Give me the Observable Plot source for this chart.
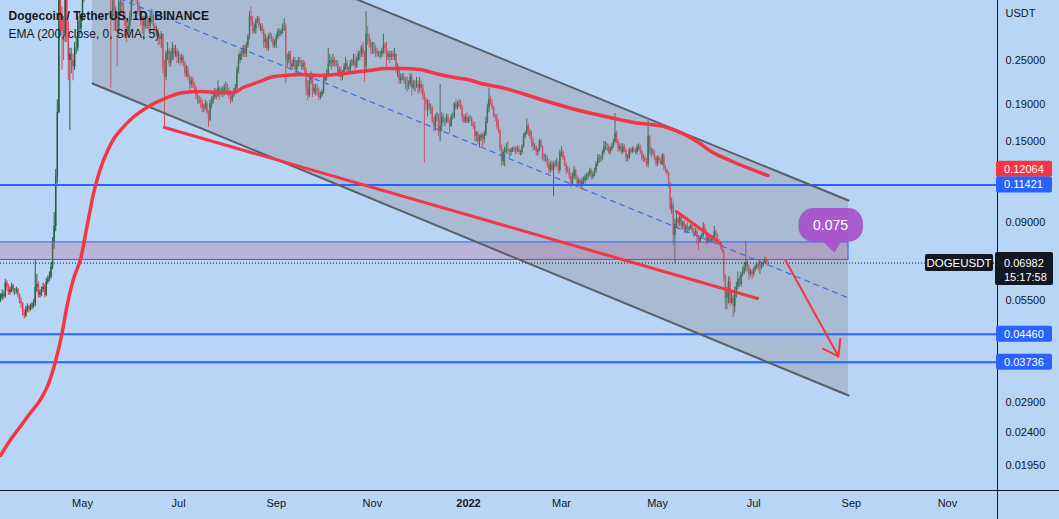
<!DOCTYPE html>
<html><head><meta charset="utf-8">
<script src="https://cdn.jsdelivr.net/npm/d3@7"></script>
<script src="https://cdn.jsdelivr.net/npm/@observablehq/plot@0.6"></script>
<style>
html,body{margin:0;padding:0;background:#b9d5f5;overflow:hidden;}
#chart svg{display:block;}
</style></head><body><div id="chart"></div>
<script>
// ---------- data ----------
const startDate = "2021-03-10";
const firstOpen = 0.0555;
const closes = [
 .0560,.0575,.0565,.0615,.0600,.0580,.0590,.0605,.0585,.0585,.0590,.0570,.0550,.0540,.0510,.0500,.0520,.0530,.0520,.0530,.0535,.0540,
 .0600,.0610,.0570,.0580,.0590,.0600,.0570,.0620,.0630,.0640,.0680,.0800,.0880,.1200,.1800,.3700,.3300,.3000,.2900,.3700,.3000,.2500,.2600,.2500,.2400,.2700,.2700,.3200,.3050,.3250,
 .3900,.3800,.4300,.5300,.5700,.6600,.6900,.7200,.5700,.4700,.5000,.4200,.4800,.5500,.5000,.5100,.4700,.4700,.3700,.3800,.3300,.3300,.3000,.3600,.3600,.3500,.3300,.3100,.3000,.3100,.3300,
 .3650,.4200,.4000,.3700,.3500,.3400,.3200,.3100,.3200,.3200,.3200,.3100,.3300,.3300,.3100,.3000,.3000,.2900,.2850,.2950,.2400,.2250,.2600,.2650,.2450,.2550,.2700,.2600,.2650,.2550,
 .2550,.2500,.2550,.2450,.2300,.2350,.2250,.2150,.2200,.2150,.2100,.2000,.1950,.1950,.1900,.1850,.1850,.1900,.1800,.1720,.1900,.1950,.1980,.2050,.2000,.2100,.2050,.2050,.2050,.2100,.2100,
 .2050,.2000,.1950,.2000,.2050,.2100,.2350,.2500,.2600,.2600,.2700,.2600,.2750,.2900,.3300,.3200,.3000,.3050,.3200,.3250,.3100,.3100,.3000,.2800,.2850,.2700,.2900,.2900,.2850,.2750,.2800,
 .2900,.3000,.2950,.3000,.3100,.3100,.2500,.2500,.2600,.2400,.2450,.2500,.2350,.2450,.2500,.2450,.2400,.2450,.2350,.2100,.2000,.2200,.2250,.2050,.2100,.2100,.2050,.1980,.2000,.2050,
 .2200,.2250,.2300,.2450,.2500,.2450,.2500,.2450,.2450,.2300,.2350,.2250,.2300,.2400,.2450,.2350,.2350,.2450,.2450,.2500,.2400,.2500,.2600,.2600,.2700,.2600,.2400,.2950,.2900,.2800,.2700,
 .2700,.2700,.2650,.2600,.2600,.2600,.2650,.2750,.2700,.2550,.2600,.2550,.2600,.2550,.2600,.2350,.2350,.2200,.2250,.2250,.2200,.2150,.2150,.2150,.2250,.2100,.2150,.2150,.2150,.2100,
 .2150,.2100,.2000,.1950,.1900,.1900,.1850,.1850,.1700,.1650,.1750,.1750,.1600,.1650,.1750,.1700,.1700,.1750,.1700,.1650,.1750,.1750,.1900,.1850,.1900,.1900,.1850,.1750,.1700,.1750,.1700,
 .1730,.1730,.1680,.1650,.1550,.1580,.1500,.1530,.1560,.1520,.1570,.1700,.1850,.1960,.1900,.1850,.1760,.1750,.1650,.1600,.1440,.1320,.1400,.1430,.1430,.1410,.1400,.1420,.1430,.1420,.1420,
 .1430,.1400,.1400,.1450,.1550,.1580,.1650,.1600,.1550,.1500,.1450,.1450,.1400,.1420,.1500,.1450,.1350,.1350,.1350,.1300,.1250,.1300,.1250,.1300,.1300,.1300,.1250,.1400,
 .1400,.1350,.1300,.1250,.1250,.1200,.1150,.1200,.1250,.1200,.1150,.1170,.1130,.1170,.1170,.1200,.1200,.1220,.1250,.1200,.1220,.1250,.1300,.1350,.1350,.1350,.1400,.1450,.1450,.1450,.1400,
 .1430,.1450,.1500,.1580,.1500,.1430,.1450,.1400,.1450,.1420,.1350,.1350,.1420,.1400,.1430,.1420,.1400,.1450,.1450,.1400,.1350,.1350,.1330,.1300,.1550,.1400,.1400,.1400,.1350,.1300,
 .1350,.1330,.1300,.1370,.1270,.1250,.1230,.1150,.0980,.1000,.0830,.0890,.0920,.0900,.0930,.0880,.0900,.0860,.0880,.0860,.0870,.0880,.0850,.0840,.0850,.0820,.0800,.0820,.0830,.0870,.0850,
 .0800,.0820,.0800,.0810,.0810,.0850,.0830,.0800,.0790,.0770,.0750,.0640,.0560,.0580,.0620,.0540,.0560,.0530,.0580,.0600,.0630,.0610,.0650,.0660,.0680,.0700,.0680,.0650,.0660,.0650,
 .0670,.0680,.0690,.0680,.0680,.0690,.0700,.0715,.0700,.06982
];
const highs = [
 .0575,.0590,.0585,.0630,.0625,.0610,.0600,.0615,.0610,.0595,.0600,.0595,.0575,.0560,.0545,.0520,.0530,.0540,.0535,.0540,.0545,.0555,
 .0710,.0650,.0620,.0590,.0600,.0615,.0610,.0635,.0645,.0660,.0700,.0820,.0960,.1260,.1950,.4500,.4000,.3500,.3300,.4200,.3800,.3200,.2700,.2700,.2600,.2800,.2900,.3300,.3400,.3350,
 .4100,.4100,.4400,.5500,.5900,.6800,.7100,.7400,.7200,.6000,.5200,.5200,.5000,.5800,.5600,.5500,.5100,.5100,.4800,.4300,.4000,.3500,.3400,.3700,.3800,.3700,.3600,.3400,.3200,.3200,.3400,
 .3800,.4400,.4300,.4050,.3800,.3600,.3500,.3300,.3300,.3400,.3300,.3250,.3400,.3450,.3350,.3150,.3100,.3050,.2950,.3000,.2950,.2500,.2650,.2800,.2700,.2650,.2800,.2750,.2750,.2700,
 .2650,.2600,.2600,.2580,.2480,.2420,.2400,.2280,.2250,.2250,.2180,.2130,.2050,.2000,.1980,.1950,.1900,.1950,.1930,.1820,.1950,.1990,.2020,.2100,.2080,.2200,.2120,.2100,.2120,.2150,.2180,
 .2150,.2100,.2050,.2050,.2100,.2150,.2400,.2600,.2650,.2700,.2750,.2750,.2800,.2950,.3400,.3500,.3300,.3150,.3250,.3300,.3300,.3150,.3150,.3050,.2950,.2900,.2950,.2980,.2950,.2900,.2850,
 .2950,.3050,.3050,.3050,.3150,.3250,.3150,.2600,.2650,.2650,.2500,.2550,.2550,.2500,.2550,.2550,.2500,.2500,.2480,.2380,.2200,.2250,.2330,.2280,.2150,.2150,.2150,.2100,.2050,.2080,
 .2250,.2300,.2350,.2700,.2600,.2550,.2600,.2550,.2500,.2500,.2400,.2400,.2350,.2450,.2550,.2500,.2400,.2500,.2520,.2600,.2600,.2550,.2650,.2650,.2750,.2800,.2650,.3400,.3100,.2950,.2850,
 .2800,.2800,.2750,.2700,.2650,.2650,.2700,.2950,.2800,.2800,.2650,.2650,.2650,.2650,.2700,.2600,.2450,.2400,.2300,.2300,.2300,.2250,.2250,.2200,.2300,.2300,.2200,.2200,.2250,.2200,
 .2250,.2200,.2150,.2050,.1980,.1950,.1950,.1900,.1880,.1750,.1780,.1800,.1780,.2150,.1800,.1780,.1730,.1780,.1780,.1720,.1780,.1800,.1920,.1950,.1930,.1950,.1950,.1880,.1780,.1780,.1800,
 .1750,.1770,.1750,.1700,.1700,.1600,.1600,.1560,.1580,.1580,.1600,.1750,.1900,.2100,.2000,.1950,.1870,.1780,.1780,.1720,.1620,.1470,.1420,.1450,.1480,.1500,.1430,.1440,.1450,.1450,.1450,
 .1460,.1460,.1420,.1470,.1580,.1600,.1730,.1680,.1620,.1600,.1530,.1480,.1460,.1440,.1520,.1520,.1460,.1390,.1380,.1370,.1340,.1320,.1330,.1320,.1330,.1350,.1320,.1420,
 .1450,.1420,.1370,.1310,.1280,.1270,.1230,.1230,.1280,.1260,.1210,.1190,.1180,.1190,.1200,.1220,.1230,.1240,.1270,.1260,.1240,.1270,.1320,.1380,.1380,.1370,.1420,.1500,.1500,.1480,.1470,
 .1450,.1480,.1520,.1790,.1600,.1520,.1480,.1480,.1480,.1470,.1430,.1380,.1440,.1440,.1450,.1450,.1430,.1470,.1480,.1470,.1420,.1380,.1370,.1350,.1710,.1560,.1440,.1430,.1420,.1370,
 .1370,.1370,.1350,.1390,.1390,.1290,.1260,.1240,.1160,.1050,.1020,.0920,.0960,.0930,.0940,.0940,.0910,.0910,.0890,.0900,.0880,.0890,.0900,.0870,.0870,.0860,.0830,.0830,.0840,.0900,.0890,
 .0860,.0830,.0830,.0820,.0830,.0880,.0860,.0840,.0810,.0800,.0780,.0760,.0650,.0600,.0640,.0640,.0580,.0570,.0600,.0620,.0660,.0640,.0660,.0680,.0700,.0800,.0710,.0690,.0670,.0670,
 .0680,.0690,.0700,.0700,.0710,.0700,.0710,.0725,.0720,.0710
];
const lows = [
 .0545,.0550,.0555,.0560,.0585,.0570,.0570,.0580,.0575,.0570,.0575,.0560,.0540,.0525,.0500,.0490,.0495,.0510,.0510,.0515,.0520,.0525,
 .0530,.0580,.0560,.0560,.0565,.0580,.0560,.0565,.0610,.0620,.0630,.0670,.0760,.0850,.1150,.1790,.3000,.2350,.2500,.2800,.2800,.2200,.1610,.2300,.2200,.2350,.2600,.2650,.2900,.2950,
 .3200,.3600,.3700,.4200,.5100,.5600,.6300,.6600,.5400,.4200,.4500,.4000,.3800,.4700,.4800,.4600,.4300,.4500,.2100,.3200,.3000,.3000,.2400,.2900,.3300,.3300,.3200,.2900,.2800,.2900,.2950,
 .3200,.3600,.3850,.3550,.3350,.3300,.3100,.2950,.2850,.3050,.3050,.3000,.3000,.3150,.2950,.2900,.2900,.2750,.2750,.2700,.2300,.1640,.2200,.2500,.2400,.2400,.2500,.2500,.2550,.2450,
 .2450,.2420,.2450,.2400,.2250,.2250,.2200,.2080,.2100,.2100,.2050,.1950,.1900,.1900,.1850,.1800,.1800,.1830,.1780,.1640,.1700,.1850,.1900,.1950,.1950,.1980,.1950,.2000,.1980,.2000,.2050,
 .2000,.1950,.1900,.1920,.1980,.2020,.2080,.2300,.2450,.2500,.2550,.2550,.2550,.2700,.2850,.3100,.2950,.2950,.2950,.3150,.3050,.3000,.2950,.2700,.2700,.2650,.2650,.2850,.2800,.2700,.2700,
 .2700,.2850,.2900,.2900,.2950,.3000,.2160,.2400,.2450,.2350,.2350,.2400,.2250,.2300,.2400,.2400,.2350,.2350,.2300,.2000,.1940,.1980,.2150,.1980,.2020,.2000,.2000,.1940,.1950,.1980,
 .2020,.2180,.2200,.2280,.2400,.2350,.2400,.2400,.2400,.2250,.2250,.2200,.2200,.2280,.2350,.2320,.2280,.2330,.2400,.2420,.2350,.2380,.2480,.2500,.2550,.2550,.2180,.2350,.2750,.2700,.2600,
 .2600,.2600,.2550,.2550,.2550,.2520,.2550,.2600,.2600,.2400,.2500,.2450,.2500,.2500,.2500,.2300,.2250,.2150,.2150,.2200,.2150,.2080,.2050,.2080,.2120,.2000,.2080,.2050,.2100,.2020,
 .2050,.2020,.1950,.1310,.1820,.1750,.1820,.1780,.1680,.1600,.1600,.1700,.1550,.1500,.1600,.1680,.1650,.1680,.1680,.1580,.1640,.1720,.1730,.1830,.1830,.1860,.1830,.1700,.1680,.1680,.1680,
 .1680,.1700,.1650,.1620,.1500,.1500,.1470,.1440,.1500,.1450,.1480,.1550,.1680,.1800,.1880,.1830,.1740,.1700,.1620,.1580,.1410,.1280,.1290,.1280,.1390,.1380,.1350,.1370,.1400,.1400,.1380,
 .1400,.1380,.1370,.1380,.1440,.1530,.1560,.1550,.1520,.1450,.1410,.1420,.1370,.1370,.1410,.1440,.1330,.1320,.1320,.1270,.1220,.1230,.1240,.1060,.1270,.1280,.1220,.1230,
 .1360,.1330,.1280,.1220,.1230,.1180,.1120,.1130,.1180,.1180,.1120,.1140,.1110,.1110,.1140,.1150,.1170,.1180,.1200,.1180,.1180,.1200,.1230,.1280,.1310,.1320,.1330,.1380,.1420,.1410,.1380,
 .1380,.1410,.1440,.1480,.1480,.1400,.1410,.1380,.1390,.1400,.1320,.1320,.1340,.1380,.1390,.1400,.1380,.1380,.1420,.1380,.1330,.1320,.1310,.1280,.1270,.1380,.1360,.1380,.1330,.1280,
 .1280,.1310,.1290,.1290,.1250,.1230,.1210,.1120,.0970,.0950,.0780,.0695,.0870,.0860,.0880,.0860,.0860,.0840,.0840,.0840,.0850,.0860,.0840,.0820,.0830,.0780,.0755,.0790,.0810,.0820,.0840,
 .0780,.0790,.0790,.0790,.0800,.0800,.0800,.0790,.0780,.0760,.0740,.0620,.0520,.0520,.0540,.0530,.0540,.0496,.0510,.0560,.0590,.0600,.0600,.0640,.0650,.0660,.0660,.0626,.0640,.0630,
 .0640,.0660,.0670,.0665,.0650,.0670,.0680,.0695,.0690,.0690
];

// EMA(200) curve, read at sample dates
const emaDates = ["2021-03-10","2021-03-16","2021-03-23","2021-03-29","2021-04-04","2021-04-09","2021-04-14","2021-04-18","2021-04-21","2021-04-25","2021-04-30","2021-05-04","2021-05-08","2021-05-12","2021-05-17","2021-05-21","2021-05-25","2021-06-02","2021-06-11","2021-06-24","2021-07-04","2021-07-15","2021-07-26","2021-08-05","2021-08-11","2021-08-20","2021-08-28","2021-09-06","2021-09-17","2021-09-28","2021-10-08","2021-10-19","2021-10-30","2021-11-09","2021-11-20","2021-12-01","2021-12-11","2021-12-22","2022-01-01","2022-01-09","2022-01-22","2022-02-12","2022-03-05","2022-03-26","2022-04-16","2022-05-07","2022-05-28","2022-06-03","2022-06-16","2022-07-10"];
const emaValues = [.0208,.02285,.0251,.0272,.0294,.0323,.0378,.0448,.0528,.0626,.0723,.0885,.1081,.1250,.1418,.1530,.1609,.1746,.1860,.1981,.2044,.2057,.2044,.2044,.2109,.2177,.2246,.2275,.2289,.2275,.2289,.2318,.2347,.2377,.2377,.2362,.2304,.2250,.2215,.2163,.2109,.1981,.1860,.1768,.1692,.1640,.1482,.1418,.1332,.1212];

// drawings
const channelDates = ["2021-05-07T08:00Z","2022-08-30T05:00Z"];
const channelUpper = [0.726, 0.1035];
const channelLower = [0.2163, 0.03032];
const channelMid = [0.3959, 0.05603];
const zoneDates = ["2021-03-01T00:00Z","2022-08-30T05:00Z"];
const zonePrices = [0.0712, 0.0795];
const levelPrices = [0.11421, 0.0446, 0.03736];
const lastPrice = 0.06982;
const emaLast = 0.12064;
const trendADates = ["2021-06-22T00:00Z","2022-07-03T10:00Z"];
const trendAPrices = [0.1640, 0.05585];
const trendBDates = ["2022-05-13T00:00Z","2022-06-10T00:00Z"];
const trendBPrices = [0.0966, 0.0790];
const arrowDates = ["2022-07-21T05:00Z","2022-08-23T19:00Z"];
const arrowPrices = [0.0710, 0.0388];
const bubbleDates = ["2022-07-29T19:00Z","2022-09-08T17:00Z"];
const bubblePrices = [0.0795, 0.0984];
const bubbleTextDate = "2022-08-18T19:00Z";
const bubbleTextPrice = 0.0885;
const bubbleText = "0.075";
const pointerDates = ["2022-08-13T01:00Z","2022-08-25T17:00Z","2022-08-21T07:00Z"];
const pointerPrices = [0.0805, 0.0805, 0.0746];

// axes
const yTicks = [0.25, 0.19, 0.15, 0.09, 0.055, 0.029, 0.024, 0.0195];
const monthTicks = ["2021-05-01","2021-07-01","2021-09-01","2021-11-01","2022-03-01","2022-05-01","2022-07-01","2022-09-01","2022-11-01"];
const yearTicks = ["2022-01-01"];
const xDomain = ["2021-03-09T22:52Z","2022-12-02T18:30Z"];
const yDomain = [0.01667, 0.3648];

// ---------- build ----------
const D = s => new Date(s.length === 10 ? s + "T00:00Z" : s);
const DAY = 864e5;
const t0 = D(startDate).getTime();
const n = Math.min(closes.length, highs.length, lows.length);
if (closes.length !== highs.length || closes.length !== lows.length) console.warn("length mismatch", closes.length, highs.length, lows.length);
const candles = [];
for (let i = 0; i < n; i++) {
  candles.push({date: new Date(t0 + i * DAY), open: i ? closes[i-1] : firstOpen, close: closes[i], high: highs[i], low: lows[i]});
}
const up = candles.filter(d => d.close >= d.open);
const down = candles.filter(d => d.close < d.open);
const emaRows = emaDates.map((d, i) => ({date: D(d), v: emaValues[i]}));
const channelRows = channelDates.map((d, i) => ({date: D(d), upper: channelUpper[i], lower: channelLower[i], mid: channelMid[i]}));
const pair = (ds, ps) => ds.map((d, i) => ({date: D(d), v: ps[i]}));

const UP = "#24603f", DOWN = "#ee3b52", RED = "#f23645", BLUE = "#2962ff", INK = "#131722";
const FONT = "Liberation Sans, Arial, sans-serif";

const chart = Plot.plot({
  width: 1059, height: 519,
  marginTop: 0, marginBottom: 29, marginLeft: 0, marginRight: 62,
  style: {background: "#b9d5f5", fontFamily: FONT, fontSize: "11px", color: INK, overflow: "hidden"},
  x: {type: "utc", domain: xDomain.map(D)},
  y: {type: "log", domain: yDomain},
  marks: [
    // candles
    Plot.ruleX(down, {x: "date", y1: "low", y2: "high", stroke: DOWN, strokeWidth: 1, clip: true}),
    Plot.ruleX(down, {x: "date", y1: "open", y2: "close", stroke: DOWN, strokeWidth: 1.5, clip: true}),
    Plot.ruleX(up, {x: "date", y1: "low", y2: "high", stroke: UP, strokeWidth: 1, clip: true}),
    Plot.ruleX(up, {x: "date", y1: "open", y2: "close", stroke: UP, strokeWidth: 1.5, clip: true}),
    // channel fill
    Plot.areaY(channelRows, {x: "date", y1: "lower", y2: "upper", fill: "#878a94", fillOpacity: 0.34, clip: true}),
    // zone
    Plot.rect([0], {x1: () => D(zoneDates[0]), x2: () => D(zoneDates[1]), y1: () => zonePrices[0], y2: () => zonePrices[1], fill: "rgb(190,110,150)", fillOpacity: 0.3, stroke: BLUE, strokeWidth: 1, clip: true}),
    // horizontal levels
    Plot.ruleY(levelPrices, {stroke: BLUE, strokeWidth: 2}),
    Plot.ruleY([lastPrice], {stroke: INK, strokeWidth: 1, strokeDasharray: "1,2"}),
    // channel borders + midline
    Plot.line(channelRows, {x: "date", y: "upper", stroke: "#5a5e66", strokeWidth: 2, clip: true}),
    Plot.line(channelRows, {x: "date", y: "lower", stroke: "#5a5e66", strokeWidth: 2, clip: true}),
    Plot.line(channelRows, {x: "date", y: "mid", stroke: "#3d6ee0", strokeWidth: 1.2, strokeDasharray: "5,5", clip: true}),
    // EMA
    Plot.line(emaRows, {x: "date", y: "v", stroke: RED, strokeWidth: 3.5, curve: "monotone-x", clip: true}),
    // red trend lines
    Plot.line(pair(trendADates, trendAPrices), {x: "date", y: "v", stroke: RED, strokeWidth: 3}),
    Plot.line(pair(trendBDates, trendBPrices), {x: "date", y: "v", stroke: RED, strokeWidth: 3}),
    Plot.arrow([0], {x1: () => D(arrowDates[0]), y1: () => arrowPrices[0], x2: () => D(arrowDates[1]), y2: () => arrowPrices[1], stroke: RED, strokeWidth: 2, headLength: 13, headAngle: 70}),
    // callout bubble
    Plot.line(pair(pointerDates, pointerPrices), {x: "date", y: "v", fill: "#a64fca", fillOpacity: 0.9, stroke: "none"}),
    Plot.rect([0], {x1: () => D(bubbleDates[0]), x2: () => D(bubbleDates[1]), y1: () => bubblePrices[0], y2: () => bubblePrices[1], rx: 15, fill: "#a64fca", fillOpacity: 0.9}),
    Plot.text([bubbleText], {x: () => D(bubbleTextDate), y: () => bubbleTextPrice, text: d => d, fill: "white", fontSize: 14}),
    // title
    Plot.text(["Dogecoin / TetherUS, 1D, BINANCE"], {frameAnchor: "top-left", dx: 8, dy: 15.5, textAnchor: "start", lineAnchor: "middle", fontWeight: "bold", fontSize: 12, fill: INK}),
    Plot.text(["EMA (200, close, 0, SMA, 5)"], {frameAnchor: "top-left", dx: 8, dy: 33.5, textAnchor: "start", lineAnchor: "middle", fontSize: 12, fill: INK}),
    Plot.text(["USDT"], {frameAnchor: "top-right", dx: 8, dy: 13, textAnchor: "start", lineAnchor: "middle", fontSize: 11, fill: INK}),
    // axes
    Plot.axisY({anchor: "right", ticks: yTicks, tickFormat: d3.format(".5f"), tickSize: 0, tickPadding: 8, label: null, fontSize: 11}),
    Plot.axisX({anchor: "bottom", ticks: monthTicks.map(D), tickFormat: d3.utcFormat("%b"), tickSize: 0, tickPadding: 9, label: null, fontSize: 11}),
    Plot.axisX({anchor: "bottom", ticks: yearTicks.map(D), tickFormat: d3.utcFormat("%Y"), tickSize: 0, tickPadding: 9, label: null, fontSize: 11, fontWeight: "bold"})
  ]
});
document.getElementById("chart").append(chart);

// ---------- right-hand price labels (placed with the plot's own y scale) ----------
const ys = chart.scale("y");
const yPix = ys.apply ? v => ys.apply(v) : d3.scaleLog().domain(ys.domain).range(ys.range);
const svg = d3.select(chart);
const frameRight = 1059 - 62, frameBottom = 519 - 29;
svg.append("line").attr("x1", frameRight + 0.5).attr("x2", frameRight + 0.5).attr("y1", 0).attr("y2", 519).attr("stroke", INK);
svg.append("line").attr("x1", 0).attr("x2", 1059).attr("y1", frameBottom + 0.5).attr("y2", frameBottom + 0.5).attr("stroke", INK);
const g = svg.append("g").attr("font-family", FONT).attr("font-size", 11).attr("text-anchor", "start");
const priceLabels = [
  {v: emaLast, text: "0.12064", fill: RED, shift: -7},
  {v: levelPrices[0], text: "0.11421", fill: BLUE, shift: 0},
  {v: levelPrices[1], text: "0.04460", fill: BLUE, shift: 0},
  {v: levelPrices[2], text: "0.03736", fill: BLUE, shift: 0}
];
for (const p of priceLabels) {
  const cy = yPix(p.v) + p.shift;
  g.append("rect").attr("x", frameRight - 1).attr("y", cy - 8).attr("width", 56).attr("height", 16).attr("rx", 2).attr("fill", p.fill);
  g.append("text").attr("x", frameRight + 7).attr("y", cy).attr("dy", "0.35em").attr("text-anchor", "start").attr("fill", "white").text(p.text);
}
const ly = yPix(lastPrice);
g.append("rect").attr("x", frameRight - 2).attr("y", ly - 10.5).attr("width", 58).attr("height", 33).attr("rx", 2).attr("fill", INK);
g.append("text").attr("x", frameRight + 7).attr("y", ly + 1).attr("dy", "0.35em").attr("text-anchor", "start").attr("fill", "white").text(lastPrice.toFixed(5));
g.append("text").attr("x", frameRight + 7).attr("y", ly + 15).attr("dy", "0.35em").attr("text-anchor", "start").attr("fill", "white").text("15:17:58");
g.append("rect").attr("x", 925).attr("y", ly - 8.5).attr("width", 68).attr("height", 17).attr("rx", 2).attr("fill", INK);
g.append("text").attr("x", 959).attr("y", ly).attr("dy", "0.35em").attr("text-anchor", "middle").attr("font-size", 11.5).attr("fill", "white").text("DOGEUSDT");
</script></body></html>
